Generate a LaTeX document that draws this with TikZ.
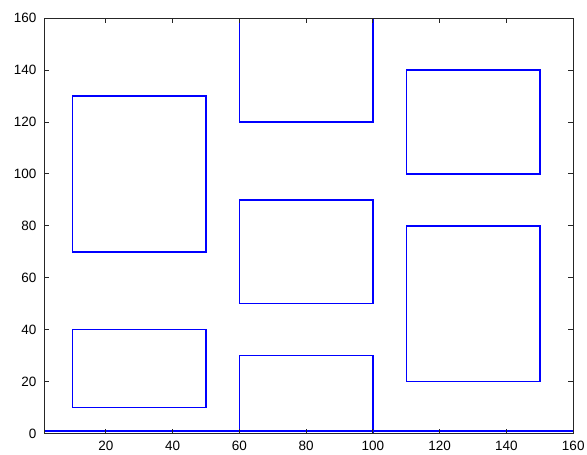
\documentclass[tikz,border=0pt]{standalone}
\usepackage{fontspec}
\setmainfont{Liberation Sans}

\begin{document}
\begin{tikzpicture}[x=3.339pt,y=2.595pt]
   \tikzstyle{axisline}=[draw=black!85,line width=1pt]
   \tikzstyle{room}=[draw=blue,line width=1.4pt]
   \tikzstyle{ticklabel}=[inner sep=0pt,font=\fontsize{13.5}{15}\selectfont]

   \useasboundingbox (-11.68,-7.9) rectangle (164.12,167.05);

   \coordinate (ll) at (1.5,0);
   \coordinate (ur) at (160,160);

   % the blocks
   \draw [room] (10,10) rectangle (50,40);
   \draw [room] (10,70) rectangle (50,130);
   \draw [room] (60,0) rectangle (100,30);
   \draw [room] (60,50) rectangle (100,90);
   \draw [room] (60,120) rectangle (100,160);
   \draw [room] (110,20) rectangle (150,80);
   \draw [room] (110,100) rectangle (150,140);
   \draw [room] (1.5,1) -- (160,1);

   % axes box, ticks and labels
   \draw [axisline] (ll) rectangle (ur);
   \foreach \x in {20,40,...,160} {
      \draw [axisline] (\x,0) -- ++(0pt,5pt);
      \draw [axisline] (\x,160) -- ++(0pt,-5pt);
      \node (xl\x) [ticklabel,anchor=north] at ([yshift=-7.5pt]\x,0) {\x};
   }
   \foreach \y in {0,20,...,160} {
      \draw [axisline] (1.5,\y) -- ++(5pt,0pt);
      \draw [axisline] (160,\y) -- ++(-5pt,0pt);
      \node (yl\y) [ticklabel,anchor=east] at ([xshift=-7.5pt]1.5,\y) {\y};
   }
\end{tikzpicture}
\end{document}
